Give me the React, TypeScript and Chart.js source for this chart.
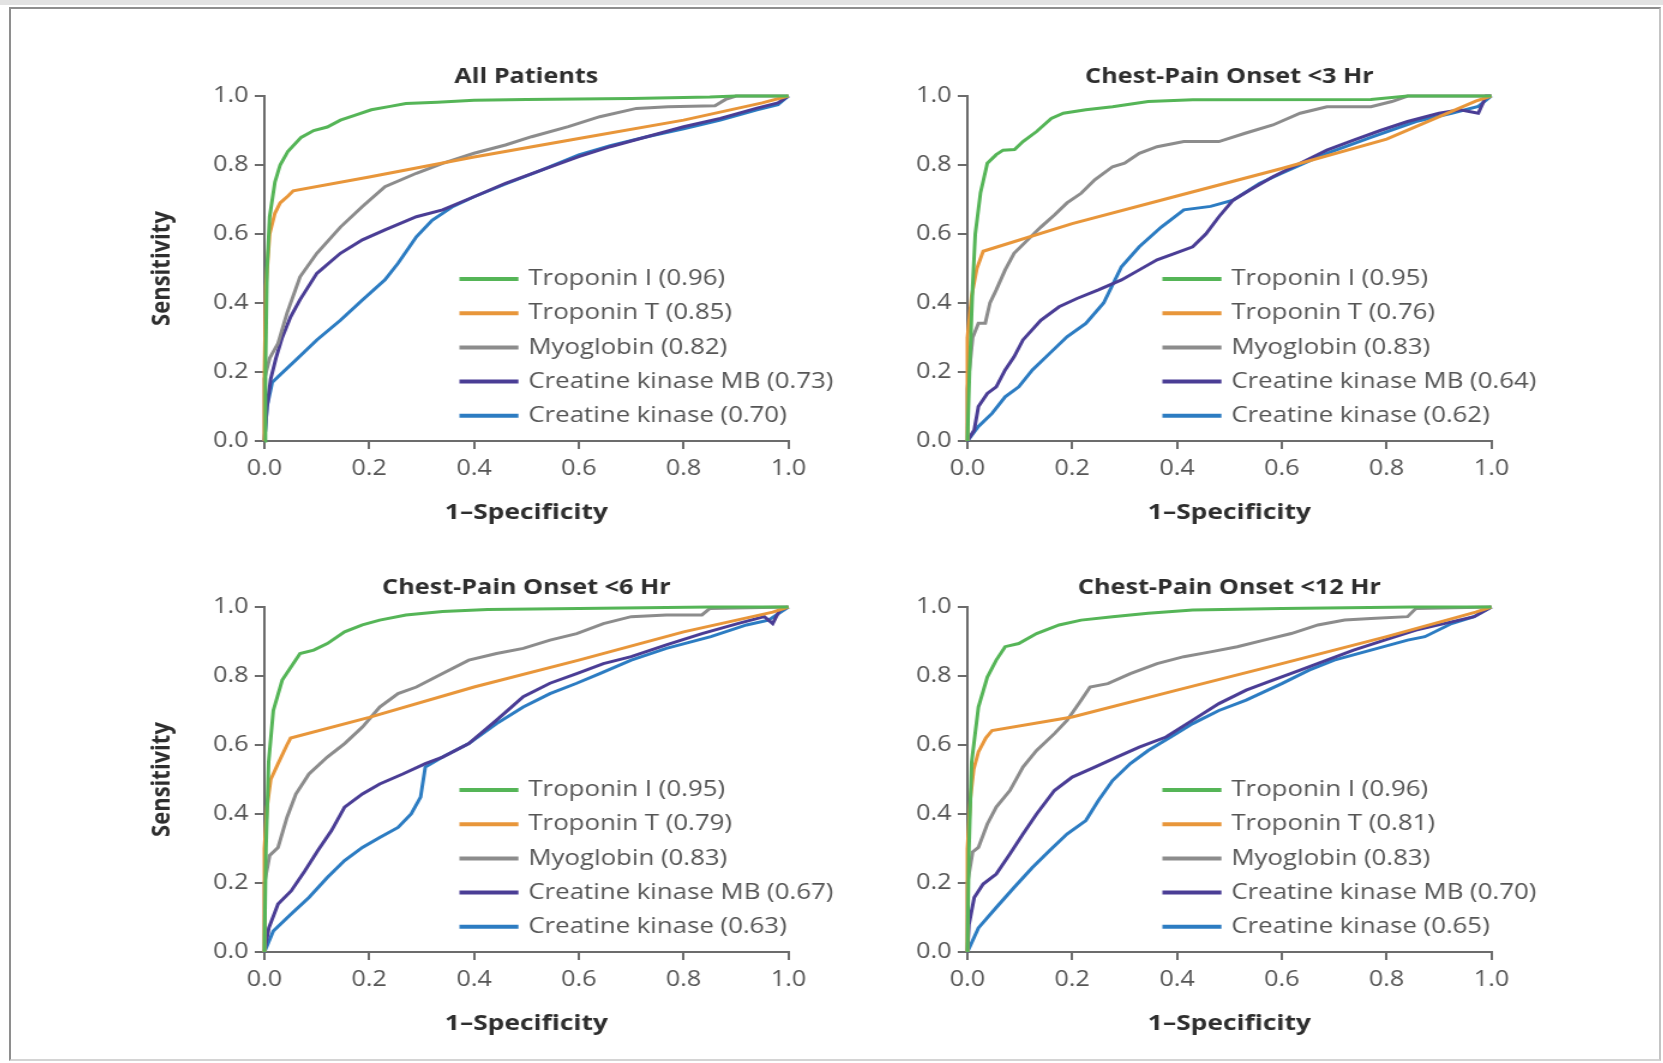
import React, { useEffect, useRef } from "react";
import { Chart, registerables } from "chart.js";

Chart.register(...registerables);

// ---------- labels ----------
const PANEL_TITLES = ["All Patients", "Chest-Pain Onset <3 Hr", "Chest-Pain Onset <6 Hr", "Chest-Pain Onset <12 Hr"];
const SERIES_NAMES = ["Troponin I", "Troponin T", "Myoglobin", "Creatine kinase MB", "Creatine kinase"];
const AUC_ALL = ["0.96", "0.85", "0.82", "0.73", "0.70"];
const AUC_3H = ["0.95", "0.76", "0.83", "0.64", "0.62"];
const AUC_6H = ["0.95", "0.79", "0.83", "0.67", "0.63"];
const AUC_12H = ["0.96", "0.81", "0.83", "0.70", "0.65"];
const X_TITLE = "1\u2013Specificity";
const Y_TITLE = "Sensitivity";
const TICK_STEP = 0.2;

// ---------- data: [1-specificity, sensitivity] ----------
const ALL_TNI = [[0,0],[0.002,0.2],[0.005,0.5],[0.01,0.65],[0.02,0.75],[0.03,0.8],[0.045,0.84],[0.07,0.88],[0.094,0.9],[0.12,0.91],[0.145,0.93],[0.175,0.945],[0.204,0.96],[0.24,0.97],[0.27,0.978],[0.33,0.982],[0.4,0.988],[0.5,0.99],[0.7,0.993],[0.85,0.997],[0.9,1],[1,1]];
const ALL_TNT = [[0,0],[0,0.2],[0.003,0.45],[0.01,0.6],[0.02,0.66],[0.03,0.69],[0.045,0.71],[0.055,0.725],[0.2,0.765],[0.4,0.823],[0.6,0.877],[0.8,0.93],[0.95,0.98],[1,1]];
const ALL_MYO = [[0,0],[0,0.18],[0.01,0.24],[0.026,0.283],[0.043,0.37],[0.068,0.476],[0.1,0.544],[0.145,0.62],[0.187,0.68],[0.23,0.737],[0.29,0.776],[0.34,0.805],[0.4,0.834],[0.46,0.858],[0.51,0.882],[0.58,0.911],[0.64,0.94],[0.71,0.964],[0.77,0.969],[0.86,0.972],[0.88,0.99],[0.9,1],[1,1]];
const ALL_CKMB = [[0,0],[0.005,0.1],[0.012,0.18],[0.022,0.24],[0.034,0.3],[0.05,0.36],[0.068,0.41],[0.1,0.486],[0.145,0.544],[0.187,0.583],[0.23,0.612],[0.29,0.65],[0.34,0.67],[0.4,0.708],[0.46,0.747],[0.53,0.786],[0.6,0.824],[0.66,0.853],[0.73,0.882],[0.8,0.911],[0.87,0.935],[0.94,0.965],[0.98,0.98],[1,1]];
const ALL_CK = [[0,0],[0.005,0.1],[0.015,0.17],[0.026,0.186],[0.06,0.235],[0.1,0.293],[0.145,0.35],[0.187,0.409],[0.23,0.467],[0.255,0.515],[0.29,0.592],[0.32,0.64],[0.36,0.68],[0.4,0.708],[0.46,0.745],[0.53,0.786],[0.6,0.829],[0.66,0.856],[0.73,0.882],[0.8,0.905],[0.87,0.93],[0.94,0.96],[0.98,0.975],[1,1]];

const H3_TNI = [[0,0],[0.004,0.2],[0.01,0.45],[0.015,0.6],[0.025,0.72],[0.038,0.805],[0.055,0.83],[0.068,0.843],[0.09,0.845],[0.106,0.868],[0.132,0.897],[0.16,0.935],[0.183,0.95],[0.226,0.96],[0.277,0.969],[0.345,0.984],[0.43,0.989],[0.77,0.99],[0.84,1],[1,1]];
const H3_TNT = [[0,0],[0,0.3],[0.008,0.42],[0.018,0.5],[0.03,0.55],[0.047,0.558],[0.2,0.63],[0.4,0.71],[0.6,0.79],[0.8,0.875],[0.97,0.985],[1,1]];
const H3_MYO = [[0,0],[0,0.15],[0.01,0.3],[0.021,0.341],[0.034,0.341],[0.043,0.4],[0.055,0.438],[0.072,0.496],[0.089,0.544],[0.115,0.583],[0.14,0.62],[0.166,0.655],[0.19,0.69],[0.217,0.718],[0.243,0.757],[0.277,0.795],[0.3,0.805],[0.328,0.834],[0.362,0.853],[0.413,0.868],[0.48,0.868],[0.53,0.892],[0.583,0.916],[0.635,0.95],[0.686,0.969],[0.77,0.969],[0.81,0.984],[0.84,1],[1,1]];
const H3_CKMB = [[0,0],[0.013,0.032],[0.021,0.1],[0.038,0.138],[0.055,0.157],[0.072,0.206],[0.089,0.244],[0.106,0.293],[0.14,0.35],[0.175,0.389],[0.209,0.413],[0.25,0.438],[0.294,0.467],[0.328,0.496],[0.362,0.525],[0.396,0.544],[0.43,0.563],[0.455,0.6],[0.48,0.65],[0.507,0.698],[0.54,0.728],[0.583,0.766],[0.635,0.805],[0.686,0.843],[0.737,0.872],[0.788,0.9],[0.84,0.926],[0.9,0.95],[0.94,0.96],[0.975,0.95],[0.99,1],[1,1]];
const H3_CK = [[0,0],[0.021,0.042],[0.047,0.08],[0.072,0.128],[0.098,0.157],[0.124,0.206],[0.157,0.254],[0.19,0.302],[0.226,0.341],[0.26,0.4],[0.294,0.505],[0.328,0.563],[0.37,0.62],[0.413,0.67],[0.464,0.68],[0.507,0.698],[0.558,0.747],[0.6,0.776],[0.686,0.834],[0.77,0.88],[0.856,0.926],[0.924,0.95],[0.975,0.97],[1,1]];

const H6_TNI = [[0,0],[0.003,0.3],[0.008,0.55],[0.017,0.7],[0.034,0.788],[0.051,0.827],[0.068,0.865],[0.094,0.875],[0.12,0.894],[0.153,0.928],[0.187,0.948],[0.22,0.962],[0.27,0.977],[0.34,0.987],[0.426,0.993],[0.6,0.996],[0.85,1],[1,1]];
const H6_TNT = [[0,0],[0,0.3],[0.005,0.42],[0.012,0.5],[0.026,0.546],[0.043,0.6],[0.05,0.62],[0.2,0.68],[0.4,0.768],[0.6,0.846],[0.8,0.928],[0.97,0.985],[1,1]];
const H6_MYO = [[0,0],[0,0.2],[0.01,0.28],[0.026,0.303],[0.043,0.39],[0.06,0.458],[0.085,0.516],[0.12,0.565],[0.153,0.604],[0.187,0.652],[0.22,0.71],[0.255,0.749],[0.29,0.768],[0.34,0.807],[0.39,0.846],[0.443,0.865],[0.494,0.88],[0.545,0.904],[0.596,0.923],[0.647,0.952],[0.7,0.972],[0.767,0.977],[0.835,0.977],[0.85,0.996],[1,1]];
const H6_CKMB = [[0,0],[0.0085,0.07],[0.026,0.139],[0.051,0.177],[0.077,0.235],[0.102,0.294],[0.128,0.352],[0.153,0.42],[0.187,0.458],[0.22,0.487],[0.264,0.516],[0.307,0.546],[0.34,0.565],[0.39,0.604],[0.443,0.672],[0.494,0.74],[0.545,0.779],[0.596,0.807],[0.647,0.836],[0.7,0.856],[0.767,0.89],[0.835,0.923],[0.903,0.952],[0.954,0.972],[0.97,0.952],[0.983,0.99],[1,1]];
const H6_CK = [[0,0],[0.017,0.061],[0.051,0.11],[0.085,0.158],[0.12,0.216],[0.153,0.265],[0.187,0.303],[0.22,0.332],[0.255,0.361],[0.28,0.4],[0.298,0.449],[0.307,0.536],[0.34,0.565],[0.39,0.604],[0.443,0.662],[0.494,0.71],[0.545,0.749],[0.596,0.779],[0.64,0.807],[0.7,0.846],[0.767,0.88],[0.852,0.914],[0.92,0.948],[0.962,0.962],[1,1]];

const H12_TNI = [[0,0],[0.003,0.3],[0.008,0.55],[0.021,0.71],[0.038,0.797],[0.055,0.846],[0.072,0.885],[0.098,0.894],[0.132,0.923],[0.175,0.948],[0.217,0.962],[0.277,0.972],[0.345,0.982],[0.43,0.991],[0.6,0.996],[0.85,1],[1,1]];
const H12_TNT = [[0,0],[0,0.3],[0.006,0.45],[0.012,0.53],[0.021,0.58],[0.035,0.62],[0.047,0.642],[0.2,0.681],[0.4,0.759],[0.6,0.836],[0.8,0.914],[0.97,0.985],[1,1]];
const H12_MYO = [[0,0],[0,0.2],[0.01,0.29],[0.021,0.303],[0.038,0.371],[0.055,0.42],[0.081,0.468],[0.106,0.536],[0.132,0.584],[0.166,0.633],[0.19,0.671],[0.217,0.73],[0.234,0.768],[0.268,0.778],[0.311,0.807],[0.362,0.836],[0.413,0.856],[0.464,0.87],[0.515,0.885],[0.566,0.904],[0.618,0.923],[0.669,0.948],[0.72,0.962],[0.77,0.967],[0.84,0.972],[0.856,0.996],[1,1]];
const H12_CKMB = [[0,0],[0.003,0.08],[0.013,0.158],[0.03,0.197],[0.055,0.226],[0.081,0.284],[0.106,0.342],[0.132,0.4],[0.166,0.468],[0.2,0.507],[0.243,0.536],[0.285,0.565],[0.328,0.594],[0.379,0.623],[0.43,0.672],[0.48,0.72],[0.532,0.759],[0.583,0.788],[0.635,0.817],[0.686,0.846],[0.737,0.875],[0.796,0.904],[0.856,0.933],[0.924,0.957],[0.967,0.972],[1,1]];
const H12_CK = [[0,0],[0.021,0.07],[0.055,0.129],[0.089,0.187],[0.124,0.245],[0.157,0.294],[0.19,0.342],[0.226,0.381],[0.25,0.439],[0.277,0.497],[0.311,0.546],[0.345,0.584],[0.388,0.623],[0.43,0.662],[0.48,0.7],[0.532,0.73],[0.6,0.778],[0.652,0.817],[0.7,0.846],[0.77,0.875],[0.84,0.904],[0.873,0.914],[0.924,0.952],[0.967,0.972],[1,1]];

// ---------- style ----------
const COLORS = ["#55b557", "#e8963a", "#8c8c8c", "#4a3d95", "#2c7cc2"];
const AXIS_COLOR = "#6c6c6c";
const TICK_COLOR = "#555555";
const TITLE_COLOR = "#2e2e2e";
const FONT = '"Open Sans", "DejaVu Sans", sans-serif';
const STRETCH = 1.2; // reference is horizontally stretched
const YAXIS_W = 107;
const CANVAS_W = 604;
const RIGHT_PAD = CANVAS_W - YAXIS_W - 524 / STRETCH;
const TITLE_H = 46;
const PLOT_H = 345;
const XAXIS_H = 100;
const CANVAS_H = TITLE_H + PLOT_H + XAXIS_H;
const LEGEND = { lineX0: 162.5, lineX1: 211.7, textX: 220, top: 183, gap: 34.2 };

type Pt = number[];
type PanelDef = { title: string; series: Pt[][]; auc: string[]; showY: boolean; left: number; top: number };

const PANELS: PanelDef[] = [
  { title: PANEL_TITLES[0], series: [ALL_TNI, ALL_TNT, ALL_MYO, ALL_CKMB, ALL_CK], auc: AUC_ALL, showY: true, left: 135.6, top: 50 },
  { title: PANEL_TITLES[1], series: [H3_TNI, H3_TNT, H3_MYO, H3_CKMB, H3_CK], auc: AUC_3H, showY: false, left: 838.6, top: 50 },
  { title: PANEL_TITLES[2], series: [H6_TNI, H6_TNT, H6_MYO, H6_CKMB, H6_CK], auc: AUC_6H, showY: true, left: 135.6, top: 561 },
  { title: PANEL_TITLES[3], series: [H12_TNI, H12_TNT, H12_MYO, H12_CKMB, H12_CK], auc: AUC_12H, showY: false, left: 838.6, top: 561 },
];

function Panel({ def }: { def: PanelDef }) {
  const ref = useRef<HTMLCanvasElement | null>(null);
  useEffect(() => {
    if (!ref.current) return;
    const labels = SERIES_NAMES.map((n, i) => `${n} (${def.auc[i]})`);
    const legendPlugin = {
      id: "rocLegend",
      afterDatasetsDraw(chart: any) {
        const { ctx, chartArea } = chart;
        ctx.save();
        labels.forEach((lab, i) => {
          const y = chartArea.top + LEGEND.top + i * LEGEND.gap;
          ctx.strokeStyle = COLORS[i];
          ctx.lineWidth = 4;
          ctx.lineCap = "butt";
          ctx.beginPath();
          ctx.moveTo(chartArea.left + LEGEND.lineX0, y);
          ctx.lineTo(chartArea.left + LEGEND.lineX1, y);
          ctx.stroke();
          ctx.fillStyle = TICK_COLOR;
          ctx.font = `21.5px ${FONT}`;
          ctx.textAlign = "left";
          ctx.textBaseline = "middle";
          ctx.fillText(lab, chartArea.left + LEGEND.textX, y);
        });
        ctx.restore();
      },
    };
    const gridOpts = { display: true, drawOnChartArea: false, drawTicks: true, tickLength: 8, color: AXIS_COLOR, lineWidth: 2 };
    const chart = new Chart(ref.current, {
      type: "line",
      data: {
        datasets: def.series.map((pts, i) => ({
          label: labels[i],
          data: pts.map((p) => ({ x: p[0], y: p[1] })),
          borderColor: COLORS[i],
          backgroundColor: COLORS[i],
          borderWidth: 3,
          pointRadius: 0,
          tension: 0,
          fill: false,
          clip: 6,
        })),
      },
      options: {
        animation: false,
        responsive: false,
        devicePixelRatio: 1,
        layout: { padding: { left: 0, top: 0, right: RIGHT_PAD, bottom: 0 } },
        plugins: {
          legend: { display: false },
          tooltip: { enabled: false },
          title: {
            display: true,
            text: def.title,
            fullSize: false,
            color: TITLE_COLOR,
            font: { family: FONT, size: 21, weight: "bold" },
            padding: { top: 14, bottom: 6.8 },
          },
        },
        scales: {
          x: {
            type: "linear",
            min: 0,
            max: 1,
            border: { display: true, color: AXIS_COLOR, width: 2 },
            grid: gridOpts,
            ticks: { stepSize: TICK_STEP, color: TICK_COLOR, padding: 7.7, font: { family: FONT, size: 21 }, callback: (v: any) => Number(v).toFixed(1) },
            title: { display: true, text: X_TITLE, color: TITLE_COLOR, font: { family: FONT, size: 22, weight: "bold" }, padding: { top: 0, bottom: 14.8 } },
            afterFit: (s: any) => { s.height = XAXIS_H; },
          },
          y: {
            type: "linear",
            min: 0,
            max: 1,
            border: { display: true, color: AXIS_COLOR, width: 2 },
            grid: gridOpts,
            ticks: { stepSize: TICK_STEP, color: TICK_COLOR, padding: 5.3, font: { family: FONT, size: 21 }, callback: (v: any) => Number(v).toFixed(1) },
            title: { display: def.showY, text: Y_TITLE, color: TITLE_COLOR, font: { family: FONT, size: 22, weight: "bold" }, padding: { top: 8.5, bottom: 0 } },
            afterFit: (s: any) => { s.width = YAXIS_W; },
          },
        },
      },
      plugins: [legendPlugin],
    } as any);
    return () => chart.destroy();
  }, [def]);
  return (
    <div
      style={{
        position: "absolute",
        left: def.left,
        top: def.top,
        width: CANVAS_W,
        height: CANVAS_H,
        transform: `scaleX(${STRETCH})`,
        transformOrigin: "0 0",
      }}
    >
      <canvas ref={ref} width={CANVAS_W} height={CANVAS_H} style={{ width: CANVAS_W, height: CANVAS_H, display: "block" }} />
    </div>
  );
}

export default function App() {
  return (
    <div style={{ position: "fixed", left: 0, top: 0, width: 1663, height: 1063, background: "#ffffff", overflow: "hidden" }}>
      <div style={{ position: "absolute", left: 0, top: 0, width: 1663, height: 5, background: "#e2e2e2" }} />
      <div
        style={{
          position: "absolute",
          left: 9,
          top: 7,
          width: 1652,
          height: 1054,
          boxSizing: "border-box",
          borderTop: "2px solid #8e8e8e",
          borderLeft: "2px solid #8e8e8e",
          borderRight: "2px solid #c4c4c4",
          borderBottom: "2px solid #d4d4d4",
        }}
      />
      {PANELS.map((p, i) => (
        <Panel key={i} def={p} />
      ))}
    </div>
  );
}
